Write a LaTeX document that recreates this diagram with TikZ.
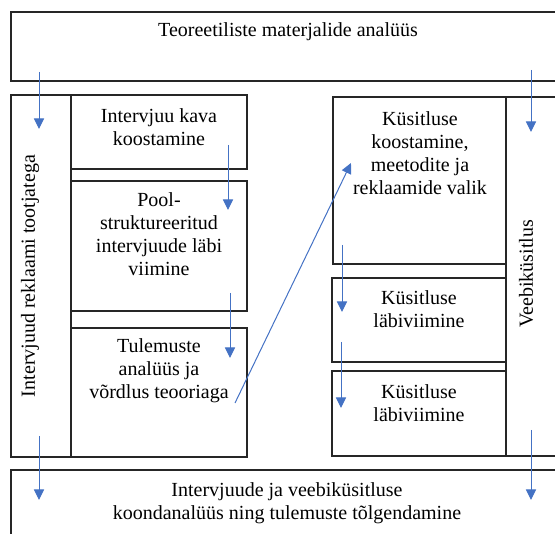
\documentclass[tikz,border=0pt]{standalone}
\usepackage{fontspec}
\setmainfont{Liberation Serif}
\usetikzlibrary{arrows.meta}
\definecolor{arrowblue}{HTML}{4472C4}

\tikzstyle{box}=[rectangle,
    draw=black!85,
    line width=1.1pt,
    inner sep=0pt]
\tikzstyle{lbl}=[align=center,
    inner sep=0pt,
    font=\fontsize{20}{23}\selectfont]
\tikzstyle{flow}=[draw=arrowblue,
    line width=1pt,
    -{Triangle[width=10pt,length=10.5pt]}]

\begin{document}
\begin{tikzpicture}[x=1pt,y=-1pt]
            \clip (0,0) rectangle (555,534);
            \node (top) [box, minimum width=589pt, minimum height=69pt] at (305.5,46.5) {};
            \node (leftcol) [box, minimum width=60pt, minimum height=362pt] at (41,276) {};
            \node (kava) [box, minimum width=176pt, minimum height=74pt] at (159,132) {};
            \node (pool) [box, minimum width=176pt, minimum height=130pt] at (159,246) {};
            \node (tulem) [box, minimum width=176pt, minimum height=129pt] at (159,392.5) {};
            \node (kysa) [box, minimum width=173pt, minimum height=167pt] at (419.5,180.5) {};
            \node (kysb) [box, minimum width=174pt, minimum height=84pt] at (419,320) {};
            \node (kysc) [box, minimum width=174pt, minimum height=85pt] at (419,413.5) {};
            \node (veebi) [box, minimum width=94pt, minimum height=359pt] at (553,276.5) {};
            \node (bottom) [box, minimum width=589pt, minimum height=90pt] at (305.5,515) {};

            \node (topT) [lbl] at (288,32) {Teoreetiliste materjalide analüüs};
            \node (leftcolT) [lbl, rotate=90] at (30,276) {Intervjuud reklaami tootjatega};
            \node (kavaT) [lbl] at (159,127) {Intervjuu kava\\koostamine};
            \node (poolT) [lbl] at (159,234) {Pool-\\struktureeritud\\intervjuude läbi\\viimine};
            \node (tulemT) [lbl] at (159,371) {Tulemuste\\analüüs ja\\võrdlus teooriaga};
            \node (kysaT) [lbl] at (420,153) {Küsitluse\\koostamine,\\meetodite ja\\reklaamide valik};
            \node (kysbT) [lbl] at (419,309) {Küsitluse\\läbiviimine};
            \node (kyscT) [lbl] at (419,403) {Küsitluse\\läbiviimine};
            \node (veebiT) [lbl, rotate=90] at (526,274) {Veebiküsitlus};
            \node (bottomT) [lbl] at (287,503) {Intervjuude ja veebiküsitluse\\koondanalüüs ning tulemuste tõlgendamine};

            \coordinate (aas) at (39,72);   \coordinate (aae) at (39,129);
            \coordinate (abs) at (531,70);  \coordinate (abe) at (531,132);
            \coordinate (acs) at (228,145); \coordinate (ace) at (228,210);
            \coordinate (ads) at (230,293); \coordinate (ade) at (230,358);
            \coordinate (aes) at (235,403); \coordinate (aee) at (351,163);
            \coordinate (afs) at (342,245); \coordinate (afe) at (342,312);
            \coordinate (ags) at (341,342); \coordinate (age) at (341,408);
            \coordinate (ahs) at (39,436);  \coordinate (ahe) at (39,500);
            \coordinate (ais) at (531,430); \coordinate (aie) at (531,500);
            \draw [flow] (aas) -- (aae);
            \draw [flow] (abs) -- (abe);
            \draw [flow] (acs) -- (ace);
            \draw [flow] (ads) -- (ade);
            \draw [flow] (aes) -- (aee);
            \draw [flow] (afs) -- (afe);
            \draw [flow] (ags) -- (age);
            \draw [flow] (ahs) -- (ahe);
            \draw [flow] (ais) -- (aie);
        \end{tikzpicture}
\end{document}
